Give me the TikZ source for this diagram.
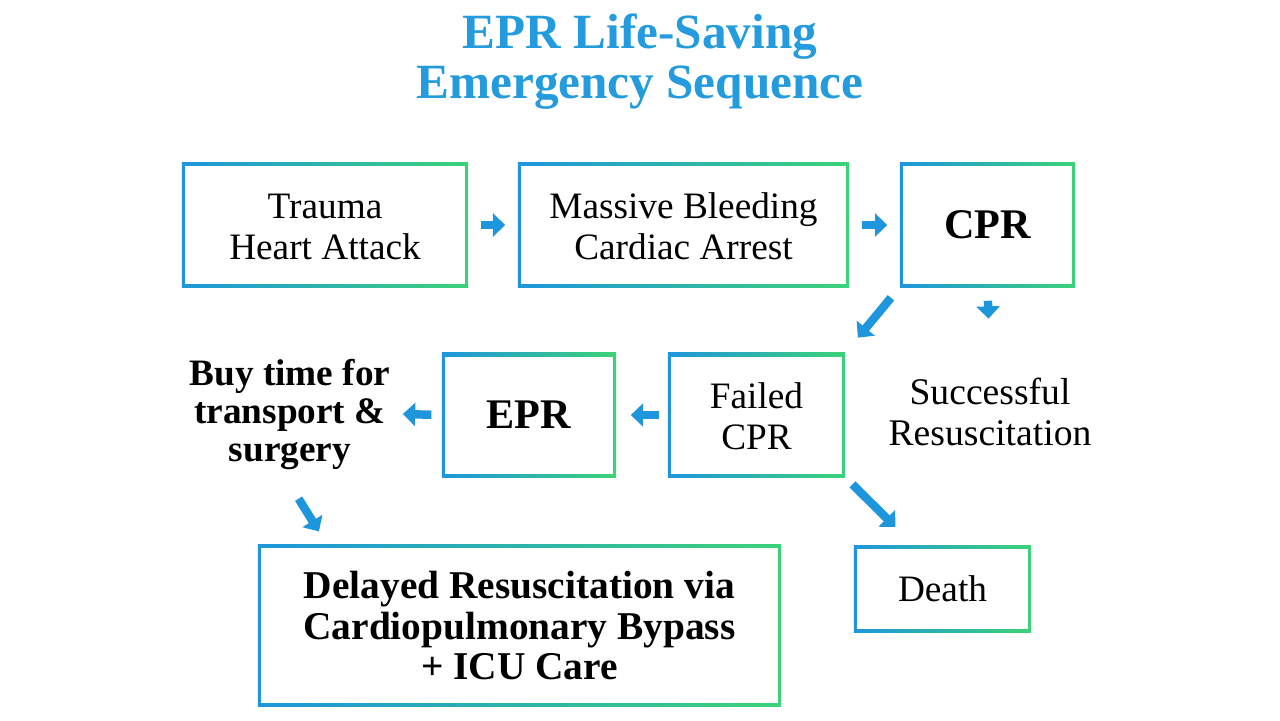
\documentclass[tikz,border=0pt]{standalone}
\usepackage{fontspec}
\setmainfont{Liberation Serif}
\usetikzlibrary{arrows.meta}
\definecolor{cblue}{RGB}{30,150,220}
\definecolor{cgreen}{RGB}{60,210,120}
\definecolor{tblue}{RGB}{35,155,220}
\tikzset{
 px/.style={x=0.01cm,y=-0.01cm},
 gbox/.style={minimum width=#1, inner sep=0pt, align=center, font=\fontsize{10.6}{11.6}\selectfont,
  path picture={\shade[left color=cblue,right color=cgreen] (path picture bounding box.south west) rectangle (path picture bounding box.north east);
   \fill[white] ([shift={(1pt,1pt)}]path picture bounding box.south west) rectangle ([shift={(-1pt,-1pt)}]path picture bounding box.north east);}},
 arr/.style={draw=cblue, line width=2.4pt, -{Triangle[length=3.5pt,width=6.5pt]}},
 plain/.style={align=center, font=\fontsize{10.7}{11.6}\selectfont},
}
\begin{document}
\begin{tikzpicture}[px]
\useasboundingbox (0,0) rectangle (1280,720);
\node[font=\bfseries\fontsize{14}{14.2}\selectfont, text=tblue, align=center] (title) at (640,62) {EPR Life-Saving\\Emergency Sequence};
\node[gbox=2.86cm, minimum height=1.24cm] (trauma) at (325,225) {\strut Trauma\\Heart Attack};
\node[gbox=3.31cm, minimum height=1.24cm] (massive) at (683.5,225) {\strut Massive Bleeding\\Cardiac Arrest};
\node[gbox=1.75cm, minimum height=1.24cm, font=\bfseries\fontsize{12}{13}\selectfont] (cpr) at (987.5,225) {CPR};
\node[gbox=1.77cm, minimum height=1.24cm] (failed) at (756.5,415) {\strut Failed\\CPR};
\node[gbox=1.74cm, minimum height=1.24cm, font=\bfseries\fontsize{12}{13}\selectfont] (epr) at (529,415) {EPR};
\node[plain] (succ) at (990,412) {Successful\\Resuscitation};
\node[plain, font=\bfseries\fontsize{10.6}{10.8}\selectfont] (buy) at (290,414) {Buy time for\\transport \&\\surgery};
\node[gbox=5.23cm, minimum height=1.61cm, font=\bfseries\fontsize{11.2}{11.6}\selectfont] (delay) at (519.5,625.5) {Delayed Resuscitation via\\Cardiopulmonary Bypass\\+ ICU Care};
\node[gbox=1.77cm, minimum height=0.87cm] (death) at (942.5,588.5) {Death};
\draw[arr, shorten <=3.4pt, shorten >=3.4pt] (trauma) -- (massive);
\draw[arr, shorten <=3.6pt, shorten >=3.4pt] (massive) -- (cpr);
\draw[arr, shorten <=3.7pt, shorten >=5.4pt] (cpr.south west) -- (failed.north east);
\draw[arr, shorten <=3.7pt, shorten >=13.4pt] (cpr.south) -- (succ.north);
\draw[arr, shorten <=2.3pt, shorten >=4pt] (failed.west) -- (epr.east);
\draw[arr, shorten <=2.8pt, shorten >=0pt] (epr.west) -- (buy.east);
\draw[arr, shorten <=5.7pt, shorten >=4.3pt] ([xshift=-0.02cm]buy.south) -- ([xshift=-1.925cm]delay.north);
\draw[arr, shorten <=2.7pt, shorten >=7pt] (failed.south east) -- ([xshift=-0.295cm]death.north);
\end{tikzpicture}
\end{document}
